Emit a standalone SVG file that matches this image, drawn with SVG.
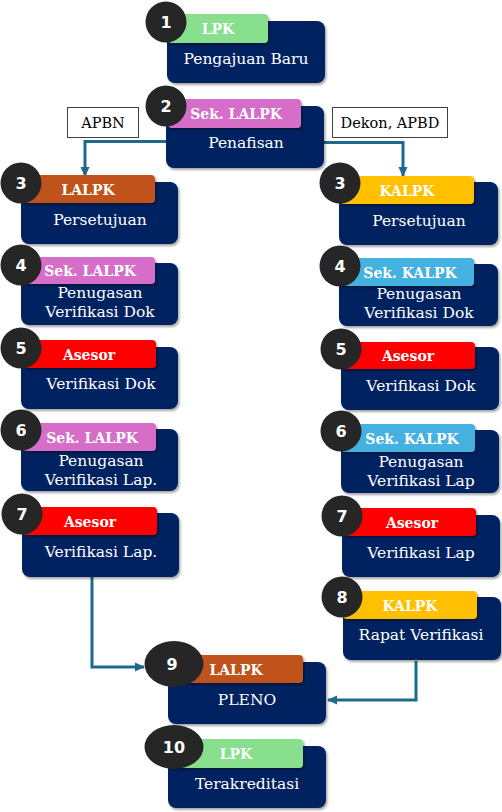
<svg xmlns="http://www.w3.org/2000/svg" width="502" height="812" viewBox="0 0 502 812">
<defs>
<filter id="sh" x="-10%" y="-20%" width="130%" height="150%"><feDropShadow dx="1.5" dy="2" stdDeviation="1.2" flood-color="#000" flood-opacity="0.35"/></filter>
<marker id="arr" markerUnits="userSpaceOnUse" markerWidth="10" markerHeight="10" viewBox="0 0 10 10" refX="9" refY="5" orient="auto"><path d="M0,0.5 L10,5 L0,9.5 Z" fill="#1E6A8D"/></marker>
</defs>
<style>
.box{fill:#002060;filter:url(#sh)}
.lab{filter:url(#sh)}
.circ{fill:#262626}
.num{fill:#fff;font-family:"DejaVu Sans",sans-serif;font-weight:bold;font-size:16px;text-anchor:middle}
.lt{fill:#fff;font-family:"DejaVu Serif",serif;font-weight:bold;font-size:14px;text-anchor:middle}
.bt{fill:#fff;font-family:"DejaVu Serif",serif;font-size:15.5px;text-anchor:middle}
.nt{fill:#000;font-family:"DejaVu Serif",serif;font-size:14.5px;text-anchor:middle}
.note{fill:#fff;stroke:#404040;stroke-width:1}
.con{fill:none;stroke:#1E6A8D;stroke-width:3;marker-end:url(#arr)}
.green{fill:#88DF8E}.pink{fill:#D56DC9}.orange{fill:#C0531A}.yellow{fill:#FFC000}.blue{fill:#45B1E0}.red{fill:#FF0000}
</style>

<g id="connectors">
<path class="con" d="M166,141.5 H85 V176"/>
<path class="con" d="M324,142.5 H403 V176"/>
<path class="con" d="M92,577 V667 H144"/>
<path class="con" d="M416,661 V700 H328"/>
</g>

<g id="note-apbn"><rect class="note" x="67.5" y="107.5" width="71" height="30"/><text class="nt" x="103" y="127.5">APBN</text></g>
<g id="note-dekon"><rect class="note" x="332.5" y="107.5" width="115" height="30"/><text class="nt" x="390" y="127.5">Dekon, APBD</text></g>

<g id="n1"><rect class="box" x="167" y="21" width="158" height="62" rx="8"/><rect class="lab green" x="168" y="14" width="100" height="29" rx="4"/><text class="lt" x="218" y="34">LPK</text><text class="bt" x="246" y="64">Pengajuan Baru</text><circle class="circ" cx="166" cy="22" r="20.5"/><text class="num" x="166" y="28">1</text></g>

<g id="n2"><rect class="box" x="166" y="106" width="158" height="62" rx="8"/><rect class="lab pink" x="168" y="99" width="133" height="29" rx="4"/><text class="lt" x="236" y="119">Sek. LALPK</text><text class="bt" x="246" y="148">Penafisan</text><circle class="circ" cx="166" cy="106" r="20.5"/><text class="num" x="166" y="112">2</text></g>

<g id="n3l"><rect class="box" x="21" y="182" width="157" height="62" rx="8"/><rect class="lab orange" x="22" y="175" width="133" height="28" rx="4"/><text class="lt" x="88" y="195">LALPK</text><text class="bt" x="100" y="225">Persetujuan</text><circle class="circ" cx="21" cy="183" r="20.5"/><text class="num" x="21" y="189">3</text></g>

<g id="n4l"><rect class="box" x="21" y="263" width="157" height="62" rx="8"/><rect class="lab pink" x="22" y="257" width="133" height="27" rx="4"/><text class="lt" x="90" y="276">Sek. LALPK</text><text class="bt" x="100" y="298">Penugasan</text><text class="bt" x="100" y="317">Verifikasi Dok</text><circle class="circ" cx="21" cy="265" r="20.5"/><text class="num" x="21" y="271">4</text></g>

<g id="n5l"><rect class="box" x="21" y="347" width="157" height="62" rx="8"/><rect class="lab red" x="23" y="340" width="133" height="28" rx="4"/><text class="lt" x="89" y="360">Asesor</text><text class="bt" x="101" y="389">Verifikasi Dok</text><circle class="circ" cx="21" cy="348" r="20.5"/><text class="num" x="21" y="354">5</text></g>

<g id="n6l"><rect class="box" x="21" y="429" width="157" height="62" rx="8"/><rect class="lab pink" x="23" y="423" width="133" height="28" rx="4"/><text class="lt" x="92" y="443">Sek. LALPK</text><text class="bt" x="101" y="466">Penugasan</text><text class="bt" x="101" y="485">Verifikasi Lap.</text><circle class="circ" cx="21" cy="430" r="20.5"/><text class="num" x="21" y="436">6</text></g>

<g id="n7l"><rect class="box" x="22" y="513" width="157" height="64" rx="8"/><rect class="lab red" x="23" y="507" width="134" height="28" rx="4"/><text class="lt" x="90" y="527">Asesor</text><text class="bt" x="101" y="557">Verifikasi Lap.</text><circle class="circ" cx="22" cy="514" r="20.5"/><text class="num" x="22" y="520">7</text></g>

<g id="n3r"><rect class="box" x="339" y="182" width="159" height="63" rx="8"/><rect class="lab yellow" x="340" y="176" width="134" height="28" rx="4"/><text class="lt" x="407" y="196">KALPK</text><text class="bt" x="419" y="226">Persetujuan</text><circle class="circ" cx="340" cy="183" r="20.5"/><text class="num" x="340" y="189">3</text></g>

<g id="n4r"><rect class="box" x="339" y="264" width="159" height="62" rx="8"/><rect class="lab blue" x="340" y="258" width="134" height="28" rx="4"/><text class="lt" x="410" y="278">Sek. KALPK</text><text class="bt" x="419" y="299">Penugasan</text><text class="bt" x="419" y="318">Verifikasi Dok</text><circle class="circ" cx="340" cy="266" r="20.5"/><text class="num" x="340" y="272">4</text></g>

<g id="n5r"><rect class="box" x="341" y="347" width="158" height="63" rx="8"/><rect class="lab red" x="341" y="342" width="134" height="27" rx="4"/><text class="lt" x="408" y="361">Asesor</text><text class="bt" x="421" y="391">Verifikasi Dok</text><circle class="circ" cx="341" cy="349" r="20.5"/><text class="num" x="341" y="355">5</text></g>

<g id="n6r"><rect class="box" x="341" y="430" width="158" height="63" rx="8"/><rect class="lab blue" x="341" y="424" width="134" height="28" rx="4"/><text class="lt" x="412" y="444">Sek. KALPK</text><text class="bt" x="421" y="467">Penugasan</text><text class="bt" x="421" y="486">Verifikasi Lap</text><circle class="circ" cx="341" cy="431" r="20.5"/><text class="num" x="341" y="437">6</text></g>

<g id="n7r"><rect class="box" x="342" y="515" width="158" height="62" rx="8"/><rect class="lab red" x="342" y="508" width="134" height="28" rx="4"/><text class="lt" x="412" y="528">Asesor</text><text class="bt" x="421" y="558">Verifikasi Lap</text><circle class="circ" cx="342" cy="516" r="20.5"/><text class="num" x="342" y="522">7</text></g>

<g id="n8r"><rect class="box" x="343" y="597" width="158" height="63" rx="8"/><rect class="lab yellow" x="343" y="591" width="134" height="28" rx="4"/><text class="lt" x="410" y="611">KALPK</text><text class="bt" x="421" y="640">Rapat Verifikasi</text><circle class="circ" cx="342" cy="597" r="20.5"/><text class="num" x="342" y="603">8</text></g>

<g id="n9"><rect class="box" x="168" y="662" width="158" height="62" rx="8"/><rect class="lab orange" x="168" y="655" width="135" height="28" rx="4"/><text class="lt" x="236" y="675">LALPK</text><text class="bt" x="247" y="705">PLENO</text><ellipse class="circ" cx="174" cy="664" rx="29.5" ry="23"/><text class="num" x="172" y="670">9</text></g>

<g id="n10"><rect class="box" x="168" y="746" width="158" height="62" rx="8"/><rect class="lab green" x="168" y="739" width="135" height="29" rx="4"/><text class="lt" x="236" y="759">LPK</text><text class="bt" x="247" y="789">Terakreditasi</text><ellipse class="circ" cx="174" cy="747" rx="29.5" ry="22"/><text class="num" x="174" y="753">10</text></g>
</svg>
